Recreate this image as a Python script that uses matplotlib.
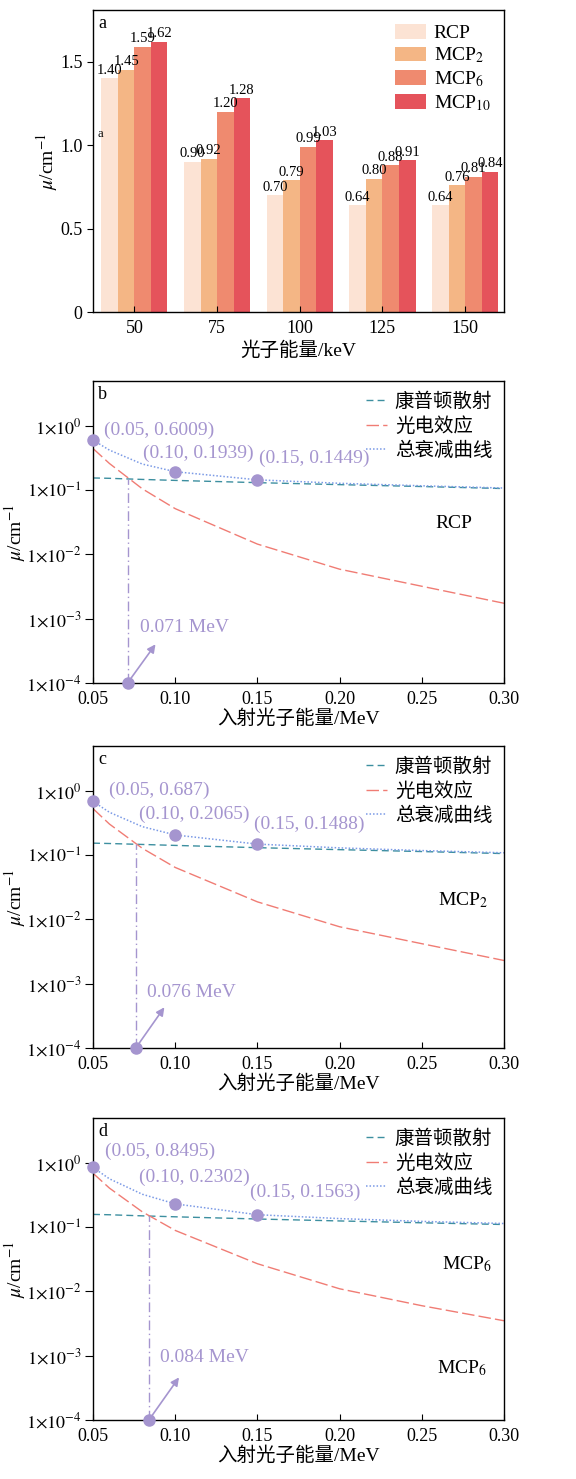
import numpy as np
import matplotlib.pyplot as plt
from matplotlib.ticker import FixedLocator, FixedFormatter, NullLocator

plt.rcParams['font.family'] = ['Liberation Serif', 'Noto Sans CJK SC']
plt.rcParams['mathtext.fontset'] = 'stix'
plt.rcParams['axes.linewidth'] = 1.0

# --- bar data: linear attenuation coefficient vs photon energy
energy_kev = ['50', '75', '100', '125', '150']
rcp = [1.40, 0.90, 0.70, 0.64, 0.64]
mcp2 = [1.45, 0.92, 0.79, 0.80, 0.76]
mcp6 = [1.59, 1.20, 0.99, 0.88, 0.81]
mcp10 = [1.62, 1.28, 1.03, 0.91, 0.84]
bar_names = ['RCP', r'MCP$_2$', r'MCP$_6$', r'MCP$_{10}$']
bar_colors = ['#fce3d4', '#f4b685', '#ef8a6f', '#e5535b']

# --- interaction curves (MeV, cm^-1)
e_mev = [0.05, 0.06, 0.08, 0.10, 0.15, 0.20, 0.25, 0.30]

compton_rcp = [0.155, 0.153, 0.147, 0.142, 0.131, 0.122, 0.114, 0.106]
photo_rcp = [0.445, 0.26, 0.105, 0.0516, 0.0145, 0.0059, 0.0032, 0.00174]
total_rcp = [0.6009, 0.42, 0.255, 0.1939, 0.1449, 0.128, 0.117, 0.108]

compton_mcp2 = [0.154, 0.152, 0.147, 0.142, 0.131, 0.122, 0.114, 0.106]
photo_mcp2 = [0.53, 0.305, 0.128, 0.0645, 0.0188, 0.0077, 0.0042, 0.0023]
total_mcp2 = [0.687, 0.465, 0.278, 0.2065, 0.1488, 0.130, 0.118, 0.109]

compton_mcp6 = [0.158, 0.156, 0.150, 0.145, 0.134, 0.125, 0.117, 0.110]
photo_mcp6 = [0.69, 0.405, 0.173, 0.089, 0.027, 0.011, 0.006, 0.0035]
total_mcp6 = [0.8495, 0.565, 0.325, 0.2302, 0.1563, 0.136, 0.123, 0.114]

marked_e = [0.05, 0.10, 0.15]
marked_rcp = [0.6009, 0.1939, 0.1449]
marked_mcp2 = [0.687, 0.2065, 0.1488]
marked_mcp6 = [0.8495, 0.2302, 0.1563]

cross_rcp = 0.071
cross_mcp2 = 0.076
cross_mcp6 = 0.084

log_ticks = [1e-4, 1e-3, 1e-2, 1e-1, 1e0]
log_labels = [r'$1{\times}10^{-4}$', r'$1{\times}10^{-3}$', r'$1{\times}10^{-2}$',
              r'$1{\times}10^{-1}$', r'$1{\times}10^{0}$']

c_compton = '#3d8fa0'
c_photo = '#f07c74'
c_total = '#7b9ae6'
c_mark = '#a595cf'

fig = plt.figure(figsize=(5.76, 14.79), dpi=100)
L, W, H = 0.1615, 0.7135, 0.2042
ax_a = fig.add_axes([L, 0.789, W, H])
ax_b = fig.add_axes([L, 0.5382, W, H])
ax_c = fig.add_axes([L, 0.2914, W, H])
ax_d = fig.add_axes([L, 0.0399, W, H])

# ---------------- panel a: grouped bars
x = np.arange(len(energy_kev))
bw = 0.2
for k, (vals, name, col) in enumerate(zip([rcp, mcp2, mcp6, mcp10], bar_names, bar_colors)):
    pos = x - 0.3 + k * bw
    ax_a.bar(pos, vals, width=bw, color=col, label=name)
    for px, v in zip(pos, vals):
        ax_a.text(px, v + 0.01, f'{v:.2f}', ha='center', va='bottom', fontsize=10.5)

ax_a.set_xlim(-0.5, 4.47)
ax_a.set_ylim(0, 1.81)
ax_a.set_xticks(x)
ax_a.set_xticklabels(energy_kev)
ax_a.set_yticks([0, 0.5, 1.0, 1.5])
ax_a.set_yticklabels(['0', '0.5', '1.0', '1.5'])
ax_a.tick_params(axis='x', direction='in', labelsize=13, length=4, pad=6)
ax_a.tick_params(axis='y', direction='out', labelsize=13, length=4)
ax_a.set_xlabel('光子能量/keV', fontsize=14, labelpad=3)
ax_a.set_ylabel(r'$\mu$/cm$^{-1}$', fontsize=14)
ax_a.yaxis.set_label_coords(-0.08, 0.5)
ax_a.text(0.012, 0.985, 'a', transform=ax_a.transAxes, ha='left', va='top', fontsize=13)
ax_a.text(-0.45, 1.07, 'a', ha='left', va='center', fontsize=9)
ax_a.legend(loc='upper right', frameon=False, fontsize=14, handlelength=1.6,
            handleheight=0.8, handletextpad=0.4, labelspacing=0.2,
            borderaxespad=0.3)

# ---------------- panels b-d: log curves
panels = [
    (ax_b, 'b', compton_rcp, photo_rcp, total_rcp, marked_rcp, cross_rcp,
     [(0.0565, 0.86), (0.0805, 0.38), (0.151, 0.315)], (0.0786, 7.4e-4), (0.088, 4.0e-4),
     [('RCP', 0.258, 0.030)]),
    (ax_c, 'c', compton_mcp2, photo_mcp2, total_mcp2, marked_mcp2, cross_mcp2,
     [(0.0595, 1.03), (0.078, 0.43), (0.148, 0.30)], (0.0826, 7.2e-4), (0.0934, 4.3e-4),
     [(r'MCP$_2$', 0.26, 0.020)]),
    (ax_d, 'd', compton_mcp6, photo_mcp6, total_mcp6, marked_mcp6, cross_mcp6,
     [(0.0573, 1.5), (0.078, 0.6), (0.1455, 0.35)], (0.0908, 9.3e-4), (0.1023, 4.6e-4),
     [(r'MCP$_6$', 0.262, 0.027), (r'MCP$_6$', 0.259, 6.5e-4)]),
]

for (ax, tag, comp, photo, total, marked, cross, txt_pos, mev_pos, head, names) in panels:
    ax.set_yscale('log')
    ax.plot(e_mev, comp, color=c_compton, lw=1.0, dashes=(5, 3), label='康普顿散射')
    ax.plot(e_mev, photo, color=c_photo, lw=1.0, dashes=(9, 3), label='光电效应')
    ax.plot(e_mev, total, color=c_total, lw=1.1, dashes=(1, 1.3), label='总衰减曲线')

    ax.plot(marked_e, marked, 'o', color=c_mark, ms=8, clip_on=False, zorder=5)
    for (tx, ty), ex, v in zip(txt_pos, marked_e, marked):
        ax.text(tx, ty, f'({ex:.2f}, {v})', color=c_mark, fontsize=14,
                ha='left', va='center')

    # crossing of Compton and photoelectric curves
    y_cross = np.interp(cross, e_mev, comp)
    ax.plot([cross, cross], [1e-4, y_cross], color=c_mark, lw=1.0,
            dashes=(7, 2.5, 1, 2.5))
    ax.plot([cross], [1e-4], 'o', color=c_mark, ms=8, clip_on=False, zorder=5)
    ax.annotate('', xy=head, xytext=(cross, 1e-4),
                arrowprops=dict(arrowstyle='-|>', color=c_mark, lw=1.2,
                                mutation_scale=12, shrinkA=3, shrinkB=0))
    ax.text(mev_pos[0], mev_pos[1], f'{cross:.3f} MeV', color=c_mark,
            fontsize=14, ha='left', va='center')

    for name, nx, ny in names:
        ax.text(nx, ny, name, fontsize=14, ha='left', va='center')

    ax.set_xlim(0.05, 0.30)
    ax.set_ylim(1e-4, 5.0)
    ax.set_xticks([0.05, 0.10, 0.15, 0.20, 0.25, 0.30])
    ax.set_xticklabels(['0.05', '0.10', '0.15', '0.20', '0.25', '0.30'])
    ax.yaxis.set_major_locator(FixedLocator(log_ticks))
    ax.yaxis.set_major_formatter(FixedFormatter(log_labels))
    ax.yaxis.set_minor_locator(NullLocator())
    ax.tick_params(axis='x', direction='in', labelsize=13, length=4, pad=6)
    ax.tick_params(axis='y', direction='out', labelsize=13, length=6, pad=2)
    ax.set_xlabel('入射光子能量/MeV', fontsize=14, labelpad=1)
    ax.set_ylabel(r'$\mu$/cm$^{-1}$', fontsize=14)
    ax.yaxis.set_label_coords(-0.158, 0.5)
    ax.text(0.012, 0.985, tag, transform=ax.transAxes, ha='left', va='top', fontsize=13)
    ax.legend(loc='upper right', frameon=False, fontsize=14, handlelength=1.1,
              handletextpad=0.4, labelspacing=0.3, borderaxespad=0.2)

fig.savefig('out.png', dpi=100)
